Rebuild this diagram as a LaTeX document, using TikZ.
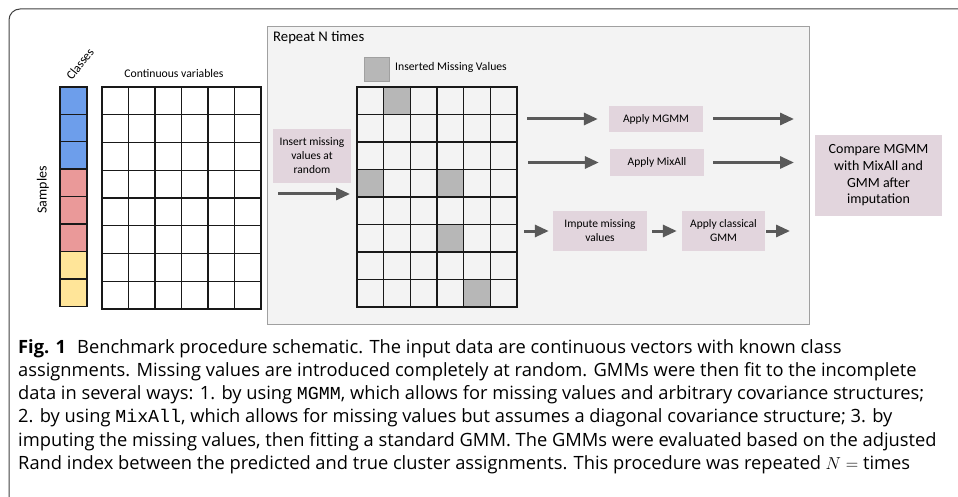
\documentclass[tikz,border=0pt]{standalone}
\usepackage{fontspec}
\setmainfont{Carlito}
\setmonofont{Liberation Mono}
\newfontfamily\capfont{Open Sans}
\usetikzlibrary{arrows.meta}

\definecolor{clsblue}{HTML}{6D9EEB}
\definecolor{clsred}{HTML}{EA9999}
\definecolor{clsyellow}{HTML}{FFE599}
\definecolor{stepfill}{HTML}{E2D5DD}
\definecolor{repfill}{HTML}{F3F3F3}
\definecolor{repdraw}{HTML}{A0A0A0}
\definecolor{missfill}{HTML}{B7B7B7}
\definecolor{flowgray}{HTML}{595959}
\definecolor{framegray}{HTML}{404040}

\begin{document}
\begin{tikzpicture}[x=1pt,y=-1pt,
    stepbox/.style={fill=stepfill,align=center,inner sep=0pt,
        font=\fontsize{11.5}{14}\selectfont},
    flow/.style={draw=flowgray,line width=3pt,-{Triangle[length=14pt,width=12pt]}},
    gridline/.style={line width=1.4pt,draw=black!90,line cap=rect},
    capline/.style={anchor=base west,inner sep=0pt,
        font=\capfont\fontsize{18.3}{21}\selectfont},
    lbl/.style={inner sep=0pt,font=\fontsize{11.7}{14}\selectfont}]
    \useasboundingbox (0,0) rectangle (958,497);
    % outer frame
    \draw[framegray,line width=1pt,rounded corners=11pt] (9,500) -- (9,9) -- (962,9);

    % input data
    \node[lbl,rotate=52,font=\fontsize{12.5}{14}\selectfont] (classes) at (80,64) {Classes};
    \node[lbl,rotate=90,font=\fontsize{14}{16}\selectfont] (samples) at (43,190) {Samples};
    \node[lbl] (contvar) at (174,73) {Continuous variables};
    \foreach \r/\c in {0/clsblue,1/clsblue,2/clsblue,3/clsred,4/clsred,5/clsred,6/clsyellow,7/clsyellow}
        \fill[\c] (60,87+\r*27.4) rectangle +(27,27.4);
    \foreach \r in {0,...,8}
        \draw[gridline] (60,87+\r*27.4) -- (87,87+\r*27.4);
    \draw[gridline] (60,87) -- (60,306) (87,87) -- (87,306);
    \foreach \i in {0,...,6}
        \draw[gridline] (102+\i*26.5,87) -- (102+\i*26.5,309);
    \foreach \r in {0,...,8}
        \draw[gridline] (102,87+\r*27.75) -- (261,87+\r*27.75);

    % repeated part
    \draw[repdraw,fill=repfill,line width=1pt] (267,27) rectangle (809,324);
    \node[anchor=west,inner sep=0pt,font=\fontsize{14.7}{17}\selectfont] (repeat) at (273,38) {Repeat N times};
    \draw[repdraw,fill=missfill,line width=1pt] (364,58) rectangle (389,82);
    \node[lbl,anchor=west] (legend) at (395,67) {Inserted Missing Values};
    \foreach \i/\r in {1/0,0/3,3/3,3/5,4/7}
        \fill[missfill] (357+\i*26.67,87+\r*27.5) rectangle +(26.67,27.5);
    \foreach \i in {0,...,6}
        \draw[gridline] (357+\i*26.67,87) -- (357+\i*26.67,307);
    \foreach \r in {0,...,8}
        \draw[gridline] (357,87+\r*27.5) -- (517,87+\r*27.5);

    \node[stepbox,minimum width=78pt,minimum height=54pt] (insert) at (312,156)
        {Insert missing\\values at\\random};
    \node[stepbox,minimum width=94pt,minimum height=26pt] (mgmm) at (656,119) {Apply MGMM};
    \node[stepbox,minimum width=94pt,minimum height=27pt] (mixall) at (657,162.5) {Apply MixAll};
    \node[stepbox,minimum width=94pt,minimum height=40pt] (impute) at (600,231) {Impute missing\\values};
    \node[stepbox,minimum width=83pt,minimum height=40pt] (classical) at (723.5,231) {Apply classical\\GMM};
    \node[stepbox,minimum width=127pt,minimum height=81pt,font=\fontsize{14}{16.7}\selectfont]
        (compare) at (878.5,175.5) {Compare MGMM\\with MixAll and\\GMM after\\imputation};

    \coordinate (in1) at (278,194);
    \coordinate (in2) at (350,194);
    \coordinate (m1) at (527,119);
    \coordinate (m2) at (794,119);
    \coordinate (x1) at (528,162.5);
    \coordinate (x2) at (794,162.5);
    \coordinate (g1) at (524,231);
    \coordinate (g2) at (790,231);
    \draw[flow] (in1) -- (in2);
    \draw[flow,shorten >=11pt] (m1) -- (mgmm);
    \draw[flow,shorten <=10pt] (mgmm) -- (m2);
    \draw[flow,shorten >=11pt] (x1) -- (mixall);
    \draw[flow,shorten <=9pt] (mixall) -- (x2);
    \draw[flow,shorten >=4pt] (g1) -- (impute);
    \draw[flow,shorten <=5pt,shorten >=5pt] (impute) -- (classical);
    \draw[flow,shorten <=1pt] (classical) -- (g2);

    % caption
    \node[capline] (cap1) at (18,353) {\textbf{Fig. 1}\hspace{0.6em}Benchmark procedure schematic. The input data are continuous vectors with known class};
    \node[capline] (cap2) at (18,376.3) {assignments. Missing values are introduced completely at random. GMMs were then fit to the incomplete};
    \node[capline] (cap3) at (18,399.6) {data in several ways: 1. by using \texttt{MGMM}, which allows for missing values and arbitrary covariance structures;};
    \node[capline] (cap4) at (18,422.9) {2. by using \texttt{MixAll}, which allows for missing values but assumes a diagonal covariance structure; 3. by};
    \node[capline] (cap5) at (18,446.2) {imputing the missing values, then fitting a standard GMM. The GMMs were evaluated based on the adjusted};
    \node[capline] (cap6) at (18,469.5) {Rand index between the predicted and true cluster assignments. This procedure was repeated $N =$ times};
\end{tikzpicture}
\end{document}
